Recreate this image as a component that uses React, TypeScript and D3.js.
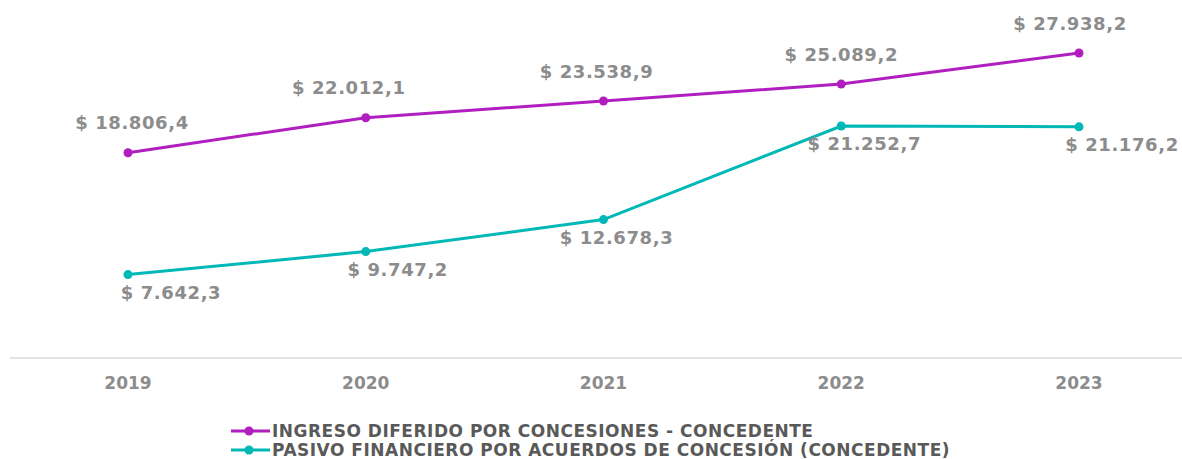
import React from "react";
import * as d3 from "d3";

const years = ["2019", "2020", "2021", "2022", "2023"];
const ingreso = [18806.4, 22012.1, 23538.9, 25089.2, 27938.2];
const pasivo = [7642.3, 9747.2, 12678.3, 21252.7, 21176.2];
const seriesNames = [
  "INGRESO DIFERIDO POR CONCESIONES - CONCEDENTE",
  "PASIVO FINANCIERO POR ACUERDOS DE CONCESIÓN (CONCEDENTE)",
];
const colors = ["#B01EC0", "#00B8B6"];
// label horizontal nudges (styling)
const ingresoDx = [4, -17, -7, 0, -9];
const pasivoDx = [43, 32, 13, 23, 43];

const W = 1182;
const H = 459;
const fmt = (v: number) => {
  const s = v.toFixed(1).split(".");
  const int = s[0].replace(/\B(?=(\d{3})+(?!\d))/g, ".");
  return `$ ${int},${s[1]}`;
};

export default function App() {
  const x = d3.scalePoint<string>().domain(years).range([128, 1079]);
  const y = d3.scaleLinear().domain([0, 30000]).range([358, 30.5]);
  const line = d3
    .line<number>()
    .x((_, i) => x(years[i])!)
    .y((d) => y(d));
  const font = "'DejaVu Sans', Verdana, sans-serif";
  return (
    <svg
      width={W}
      height={H}
      style={{ position: "absolute", left: 0, top: 0, background: "#fff" }}
    >
      <line x1={10} x2={W} y1={358} y2={358} stroke="#D9D9D9" strokeWidth={1.3} />
      {years.map((yr) => (
        <text
          key={yr}
          x={x(yr)}
          y={389}
          textAnchor="middle"
          fontFamily={font}
          fontWeight="bold"
          fontSize={17}
          fill="#8C8C8C"
        >
          {yr}
        </text>
      ))}
      {[ingreso, pasivo].map((s, si) => (
        <g key={si}>
          <path d={line(s)!} fill="none" stroke={colors[si]} strokeWidth={3} />
          {s.map((v, i) => (
            <circle key={i} cx={x(years[i])} cy={y(v)} r={4.5} fill={colors[si]} />
          ))}
          {s.map((v, i) => (
            <text
              key={"t" + i}
              x={x(years[i])! + (si === 0 ? ingresoDx[i] : pasivoDx[i])}
              y={si === 0 ? y(v) - 23.5 : y(v) + 24}
              textAnchor="middle"
              fontFamily={font}
              fontWeight="bold"
              fontSize={18}
              letterSpacing={0.6}
              fill="#8C8C8C"
            >
              {fmt(v)}
            </text>
          ))}
        </g>
      ))}
      {seriesNames.map((n, i) => (
        <g key={n} transform={`translate(0, ${431 + i * 19})`}>
          <line x1={231} x2={270} y1={0} y2={0} stroke={colors[i]} strokeWidth={3} />
          <circle cx={249} cy={0} r={4.5} fill={colors[i]} />
          <text
            x={272}
            y={6}
            fontFamily={font}
            fontWeight="bold"
            fontSize={17}
            letterSpacing={0.5}
            fill="#595959"
          >
            {n}
          </text>
        </g>
      ))}
    </svg>
  );
}
